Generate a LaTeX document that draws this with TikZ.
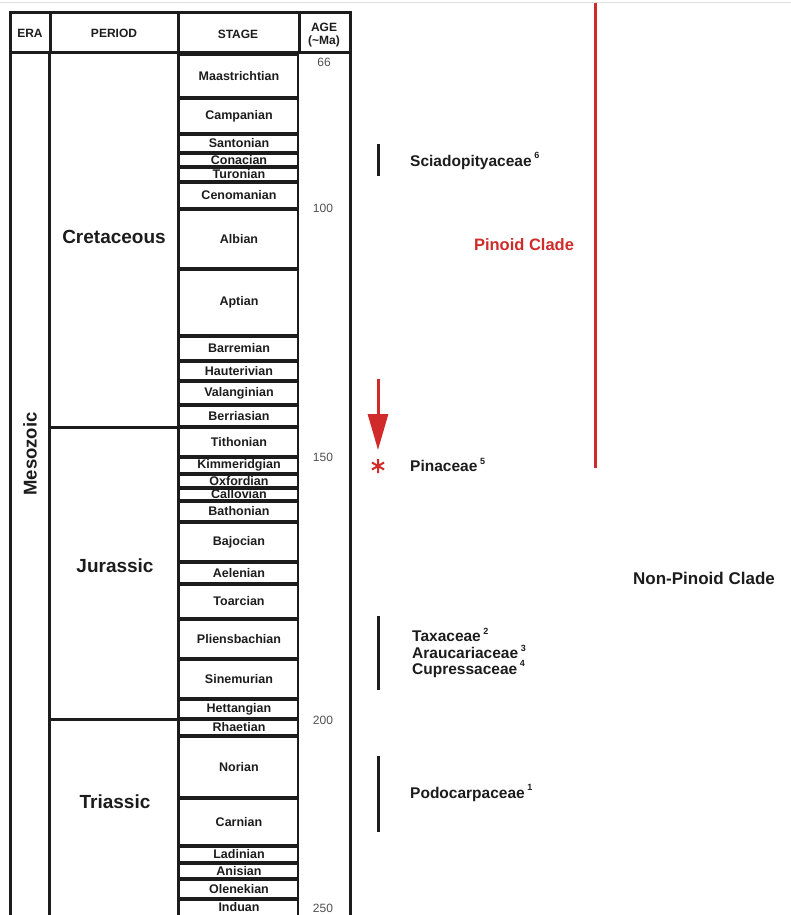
\documentclass[tikz,border=0pt]{standalone}
\usepackage{fontspec}
\setmainfont{Liberation Sans}
\usetikzlibrary{arrows.meta}
\definecolor{ink}{HTML}{1C1C1C}
\definecolor{agegray}{HTML}{505050}
\definecolor{cladered}{HTML}{D02A2A}
\newcommand\famsup[1]{\,\raisebox{0.5em}{\fontsize{9}{9}\selectfont\bfseries #1}}
\begin{document}
\begin{tikzpicture}[x=1pt,y=-1pt,
  tbl/.style={draw=ink, line width=3pt},
  stagebox/.style={draw=ink, line width=2pt},
  stagelbl/.style={font=\bfseries\fontsize{12.5}{12.5}\selectfont, text=ink, inner sep=0pt},
  headlbl/.style={font=\bfseries\fontsize{12}{13}\selectfont, text=ink, inner sep=0pt, align=center},
  periodlbl/.style={font=\bfseries\fontsize{19}{19}\selectfont, text=ink, inner sep=0pt},
  agelbl/.style={font=\fontsize{12}{12}\selectfont, text=agegray, inner sep=0pt},
  famlbl/.style={font=\bfseries\fontsize{15.5}{15.5}\selectfont, text=ink, inner sep=0pt, anchor=west},
  rangebar/.style={draw=ink, line width=3pt},
  cladelbl/.style={font=\bfseries\fontsize{17}{17}\selectfont, inner sep=0pt}]
\useasboundingbox (0,0) rectangle (791,915);
\clip (0,0) rectangle (791,915);
% top rule of the page
\draw[gray!25, line width=1.5pt] (0,2.5) -- (791,2.5);
% stage boxes
\foreach \t/\b/\n in {55/97/Maastrichtian, 99/133/Campanian, 135/152/Santonian,
  154/166/Conacian, 168/181/Turonian, 183/208/Cenomanian, 210/268/Albian,
  270/335/Aptian, 337/360/Barremian, 362/380/Hauterivian, 382/404/Valanginian,
  406/426/Berriasian, 428/456/Tithonian, 458/473/Kimmeridgian, 475/487/Oxfordian,
  489/500/Callovian, 502/521/Bathonian, 523/561/Bajocian, 563/583/Aelenian,
  585/618/Toarcian, 620/658/Pliensbachian, 660/698/Sinemurian, 700/718/Hettangian,
  720/735/Rhaetian, 737/797/Norian, 799/845/Carnian, 847/862/Ladinian,
  864/878/Anisian, 880/898/Olenekian}{
  \draw[stagebox] (178,\t) rectangle (298,\b);
  \node[stagelbl] (s-\n) at (239,{(\t+\b)/2}) {\n};
}
\draw[stagebox] (178,900) rectangle (298,925);
\node[stagelbl] (s-Induan) at (239,907.5) {Induan};
% table frame
\draw[tbl] (10,13) rectangle (350,53);
\draw[tbl] (50,13) -- (50,53) (178,13) -- (178,53) (299,13) -- (299,53);
\draw[tbl] (10,53) -- (10,925) (49,53) -- (49,925) (178,53) -- (178,925) (350,53) -- (350,925);
\draw[tbl] (49,427) -- (178,427) (49,719) -- (178,719);
% headers
\node[headlbl] (h-era) at (30,33) {ERA};
\node[headlbl] (h-period) at (114,33) {PERIOD};
\node[headlbl] (h-stage) at (238,34) {STAGE};
\node[headlbl] (h-age) at (324,35) {AGE\\(\textasciitilde Ma)};
% era / periods
\node[periodlbl, rotate=90, font=\bfseries\fontsize{18.5}{18.5}\selectfont] (era) at (30,454) {Mesozoic};
\node[periodlbl] (p-cret) at (114,237) {Cretaceous};
\node[periodlbl] (p-jur) at (115,566) {Jurassic};
\node[periodlbl] (p-tri) at (115,802) {Triassic};
% ages
\node[agelbl] (a66) at (324,62) {66};
\node[agelbl] (a100) at (323,208) {100};
\node[agelbl] (a150) at (323,457) {150};
\node[agelbl] (a200) at (323,720) {200};
\node[agelbl] (a250) at (323,908) {250};
% range bars
\coordinate (b1t) at (378,144); \coordinate (b1b) at (378,176);
\coordinate (b2t) at (378,616); \coordinate (b2b) at (378,690);
\coordinate (b3t) at (378,756); \coordinate (b3b) at (378,832);
\draw[rangebar] (b1t) -- (b1b);
\draw[rangebar] (b2t) -- (b2b);
\draw[rangebar] (b3t) -- (b3b);
% family labels
\node[famlbl] (f-sciad) at (410,161) {Sciadopityaceae\famsup{6}};
\node[famlbl] (f-pin) at (410,465) {Pinaceae\famsup{5}};
\node[famlbl] (f-tax) at (412,635) {Taxaceae\famsup{2}};
\node[famlbl] (f-arau) at (412,652) {Araucariaceae\famsup{3}};
\node[famlbl] (f-cupr) at (412,669) {Cupressaceae\famsup{4}};
\node[famlbl] (f-podo) at (410,793) {Podocarpaceae\famsup{1}};
% pinoid clade
\coordinate (rt) at (595,3); \coordinate (rb) at (595,468);
\draw[cladered, line width=3pt] (rt) -- (rb);
\node[cladelbl, text=cladered, font=\bfseries\fontsize{16.5}{16.5}\selectfont] (pinoid) at (524,245) {Pinoid Clade};
\node[cladelbl, text=ink] (nonpinoid) at (704,578) {Non-Pinoid Clade};
% arrow and asterisk
\coordinate (arrS) at (378,379); \coordinate (arrE) at (378,450);
\draw[cladered, line width=3pt, -{Triangle[width=20pt,length=36pt]}] (arrS) -- (arrE);
\coordinate (ast) at (378,466);
\draw[cladered, line width=2pt, shift={(ast)}] (90:7) -- (270:7) (30:7) -- (210:7) (150:7) -- (330:7);
\end{tikzpicture}
\end{document}
